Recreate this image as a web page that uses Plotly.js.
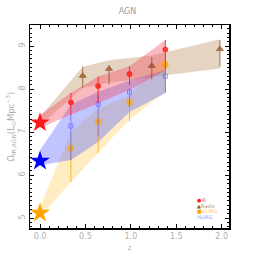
<!DOCTYPE html>
<html><head><meta charset="utf-8">
<script src="https://cdn.plot.ly/plotly-3.0.1.min.js"></script>
<style>body{margin:0;background:#fff}#c{width:255px;height:255px}</style>
</head><body><div id="c"></div>
<script>
// IR (red)
const irX = [0.34, 0.64, 0.985, 1.38];
const irY = [7.69, 8.07, 8.35, 8.92];
const irUp = [7.91, 8.29, 8.53, 9.14];
const irLo = [7.40, 7.67, 8.09, 8.44];
const irBandX = [0, 0.34, 0.64, 0.985, 1.38];
const irBandUp = [7.40, 7.91, 8.29, 8.53, 9.14];
const irBandLo = [7.10, 7.40, 7.67, 7.98, 8.44];
const irStar = 7.22;
// Radio (brown)
const pwX = [0.47, 0.76, 1.23, 1.98];
const pwY = [8.31, 8.47, 8.54, 8.93];
const pwUp = [8.52, 8.56, 8.74, 9.14];
const pwLo = [8.03, 8.11, 8.23, 8.52];
const pwBandX = [0, 0.47, 0.76, 1.23, 1.98];
const pwBandUp = [7.35, 8.52, 8.67, 8.78, 9.16];
const pwBandLo = [7.16, 8.03, 8.15, 8.28, 8.48];
// ULIRG (orange)
const ulX = [0.34, 0.64, 0.985, 1.38];
const ulY = [6.62, 7.24, 7.69, 8.57];
const ulUp = [6.75, 7.45, 7.82, 8.75];
const ulLo = [5.84, 6.51, 7.24, 7.93];
const ulBandX = [0, 0.34, 0.64, 0.985, 1.38];
const ulBandUp = [5.25, 7.00, 7.55, 7.85, 8.75];
const ulBandLo = [5.02, 5.84, 6.51, 7.30, 7.93];
const ulStar = 5.12;
// HLIRG (blue)
const hlX = [0.34, 0.64, 0.985, 1.38];
const hlY = [7.14, 7.65, 7.93, 8.30];
const hlUp = [7.40, 7.86, 8.02, 8.43];
const hlLo = [6.35, 6.90, 7.57, 7.91];
const hlBandX = [0, 0.34, 0.64, 0.985, 1.38];
const hlBandUp = [6.58, 7.64, 7.94, 8.20, 8.45];
const hlBandLo = [6.23, 6.35, 6.77, 7.47, 7.91];
const hlStar = 6.33;

const legendNames = ['IR', 'Radio', 'ULIRG', 'HLIRG'];
const legendSymbols = ['●', '▲', '■', ''];

const cRed = '#ff1a1a', cBrown = '#8b4a1a', cOrange = '#ffa500', cBlue = '#5050ff';

function band(x, up, lo, fill) {
  return {x: x.concat(x.slice().reverse()), y: up.concat(lo.slice().reverse()),
    fill: 'toself', fillcolor: fill, line: {width: 0}, mode: 'lines',
    hoverinfo: 'skip', showlegend: false};
}
function pts(x, y, up, lo, color, symbol, size, opacity) {
  return {x: x, y: y, mode: 'markers', showlegend: false,
    marker: {color: color, symbol: symbol, size: size, line: {color: color, width: 1}},
    error_y: {type: 'data', symmetric: false,
      array: up.map((u, i) => u - y[i]), arrayminus: lo.map((l, i) => y[i] - l),
      color: color, thickness: 1, width: 0}, opacity: opacity};
}
function star(y, color) {
  return {x: [0], y: [y], mode: 'markers', showlegend: false,
    marker: {symbol: 'star', size: 15, color: color, line: {width: 0}}};
}

const traces = [
  band(pwBandX, pwBandUp, pwBandLo, 'rgba(205,170,135,0.5)'),
  band(ulBandX, ulBandUp, ulBandLo, 'rgba(255,205,90,0.38)'),
  band(hlBandX, hlBandUp, hlBandLo, 'rgba(90,100,255,0.38)'),
  band(irBandX, irBandUp, irBandLo, 'rgba(245,70,90,0.38)'),
  pts(pwX, pwY, pwUp, pwLo, cBrown, 'triangle-up', 6, 0.75),
  pts(ulX, ulY, ulUp, ulLo, cOrange, 'square', 5, 0.75),
  pts(hlX, hlY, hlUp, hlLo, cBlue, 'square-open', 4, 0.6),
  pts(irX, irY, irUp, irLo, cRed, 'circle', 5, 0.85),
  star(irStar, cRed), star(hlStar, '#0000ff'), star(ulStar, cOrange)
];

const symColors = [cRed, cBrown, cOrange, '#9999ff'];
const txtColors = ['#f07070', '#b98a60', '#ffc870', '#9a9aff'];
const annotations = legendNames.map((n, i) => ({
  xref: 'paper', yref: 'paper', x: 0.835, y: 0.138 - i * 0.028, xanchor: 'left', yanchor: 'middle',
  showarrow: false, font: {size: 5, family: 'DejaVu Sans'}, borderpad: 0,
  text: (legendSymbols[i] ? '<span style="color:' + symColors[i] + '">' + legendSymbols[i] + '</span>' : '') +
        '<span style="color:' + txtColors[i] + '">' + n + '</span>'
}));

const axBase = {showline: true, linecolor: '#000', linewidth: 1.5, mirror: 'ticks', ticks: 'inside',
  ticklen: 4, tickcolor: '#000', tickwidth: 1, showgrid: false, zeroline: false,
  tickfont: {size: 8, color: '#b0b0b0', family: 'DejaVu Sans'}};

const layout = {
  width: 255, height: 255, margin: {l: 30, r: 26, t: 25, b: 27},
  paper_bgcolor: '#fff', plot_bgcolor: '#fff', showlegend: false,
  title: {text: 'AGN', x: 0.5, y: 0.955, xanchor: 'center', yanchor: 'middle', font: {size: 8, color: '#999', family: 'DejaVu Sans'}},
  xaxis: Object.assign({}, axBase, {range: [-0.11, 2.08], dtick: 0.5, tick0: 0, tickformat: '.1f',
    minor: {dtick: 0.1, ticklen: 2, ticks: 'inside', tickcolor: '#000'},
    title: {text: 'z', standoff: 5, font: {size: 7, color: '#aaa', family: 'DejaVu Sans'}}}),
  yaxis: Object.assign({}, axBase, {range: [4.77, 9.49], dtick: 1, tickangle: -90,
    minor: {dtick: 0.1, ticklen: 2, ticks: 'inside', tickcolor: '#000'},
    title: {text: 'Ω<sub>IR,AGN</sub>(L<sub>⊙</sub>Mpc<sup>−3</sup>)', standoff: 2, font: {size: 8.5, color: '#aaa', family: 'DejaVu Sans'}}}),
  annotations: annotations
};
Plotly.newPlot('c', traces, layout, {displayModeBar: false, staticPlot: true});
</script></body></html>
